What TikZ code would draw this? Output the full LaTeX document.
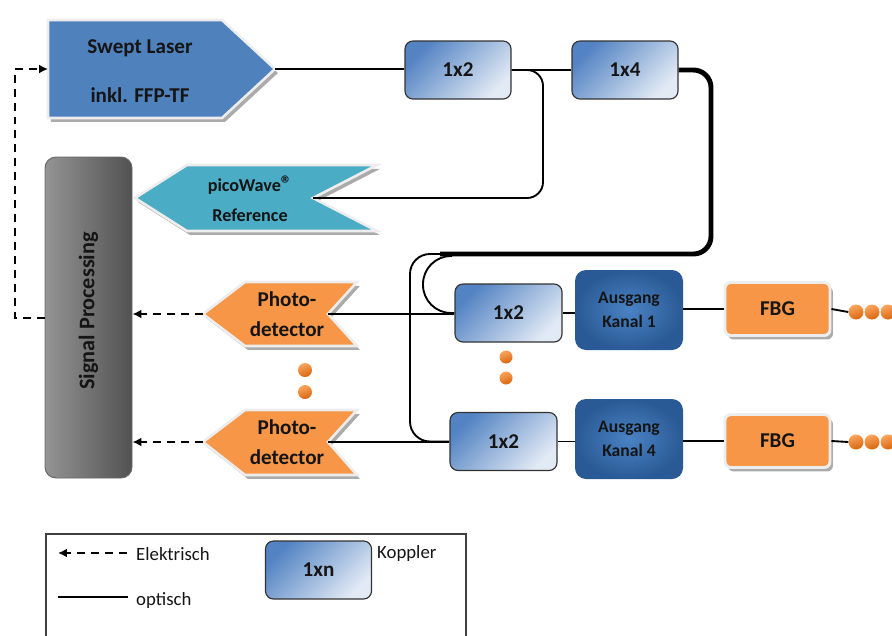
\documentclass[tikz,border=0pt]{standalone}
\usepackage{fontspec}
\setmainfont{Carlito}
\usetikzlibrary{shadows,arrows.meta,calc}
\definecolor{laserblue}{HTML}{4F81BD}
\definecolor{picoteal}{HTML}{4BACC6}
\definecolor{pdorange}{HTML}{F79646}
\definecolor{ausdark}{HTML}{2A5A95}
\definecolor{auslight}{HTML}{4A82C4}
\definecolor{cpldark}{HTML}{5383C3}
\definecolor{cpllight}{HTML}{E2EAF5}
\definecolor{txt}{HTML}{151515}
\definecolor{shadowgray}{HTML}{ABABAB}
\definecolor{rimc}{HTML}{EDEDED}
\definecolor{dottop}{HTML}{FAA65E}
\definecolor{dotbot}{HTML}{D9650F}
\newdimen\pxu \pxu=0.03cm
\begin{document}
\begin{tikzpicture}[x=0.03cm,y=-0.03cm,
  lbl/.style={font=\fontsize{18}{21.6}\selectfont\bfseries, text=txt, align=center},
  fancy/.style={fill=#1, draw=rimc, line width=2.2pt, line join=miter,
    drop shadow={shadow xshift=2.5pt, shadow yshift=-3.4pt, fill=shadowgray, opacity=1}},
  cpl/.style={draw=black!80, line width=1pt, rounded corners=6.8pt,
    top color=cpldark, bottom color=cpllight, shading angle=45,
    minimum width=106\pxu, minimum height=58\pxu, inner sep=0pt, lbl},
  aus/.style={inner color=auslight, outer color=ausdark, rounded corners=9.4pt,
    minimum width=108\pxu, minimum height=80\pxu, inner sep=0pt, align=center,
    text=txt, font=\fontsize{15}{21}\selectfont\bfseries},
  fbgbox/.style={fill=pdorange, draw=rimc, line width=2.5pt, rounded corners=5pt,
    drop shadow={shadow xshift=2.5pt, shadow yshift=-3.4pt, fill=shadowgray, opacity=1},
    minimum width=105\pxu, minimum height=53\pxu, inner sep=0pt, lbl},
  spbox/.style={rounded corners=9.4pt, draw=black!60, line width=0.8pt,
    left color=black!42, middle color=black!14, right color=black!68,
    minimum width=87\pxu, minimum height=321\pxu, inner sep=0pt},
  dotball/.style={circle, top color=dottop, bottom color=dotbot, shading angle=20,
    minimum size=14\pxu, inner sep=0pt},
  fiber/.style={draw=black, line width=1.6pt},
  thickfiber/.style={draw=black, line width=4.2pt},
  elec/.style={draw=black, line width=1.6pt, dash pattern=on 6.8pt off 5.1pt,
    -{Latex[length=7.6pt,width=7.6pt]}},
  legtext/.style={font=\fontsize{16}{19}\selectfont, text=txt, anchor=west, inner sep=0pt}
]
\useasboundingbox (0,0) rectangle (892,635);
\clip (0,0) rectangle (892,635);

% ---------- Swept laser ----------
\path[fancy=laserblue] (48,20) -- (222,20) -- (275,69) -- (222,118) -- (48,118) -- cycle;
\coordinate (laserTip) at (275,69);
\coordinate (laserIn) at (48,69);
\node[lbl] (laser) at (140,71) {Swept Laser\\[20pt]inkl. FFP-TF};

% ---------- picoWave reference ----------
\path[fancy=picoteal] (135,198) -- (187,165) -- (377,165) -- (313,198) -- (377,231) -- (187,231) -- cycle;
\coordinate (picoNotch) at (313,198);
\node[lbl, font=\fontsize{15.5}{25.5}\selectfont\bfseries] (pico) at (250,199) {picoWave{\fontsize{19}{19}\selectfont ®}\\Reference};

% ---------- Signal processing ----------
\node[spbox] (sp) at (88.5,317.5) {};
\node[lbl, rotate=90, font=\fontsize{19}{22}\selectfont\bfseries] (splabel) at (88.5,311) {Signal Processing};

% ---------- Photodetectors ----------
\path[fancy=pdorange] (203,314) -- (245,282) -- (357,282) -- (328,314) -- (357,346) -- (245,346) -- cycle;
\coordinate (pd1Tip) at (203,314);
\coordinate (pd1Notch) at (328,314);
\node[lbl, font=\fontsize{18}{25.5}\selectfont\bfseries] (pd1) at (287,314) {Photo-\\detector};

\path[fancy=pdorange] (203,442) -- (245,410) -- (357,410) -- (328,442) -- (357,475) -- (245,475) -- cycle;
\coordinate (pd2Tip) at (203,442);
\coordinate (pd2Notch) at (328,442);
\node[lbl, font=\fontsize{18}{25.5}\selectfont\bfseries] (pd2) at (287,442) {Photo-\\detector};

\node[dotball] (dpa) at (305,370) {};
\node[dotball] (dpb) at (305,392) {};

% ---------- Couplers ----------
\node[cpl] (c12a) at (458,70) {1x2};
\node[cpl] (c14) at (625,70) {1x4};
\node[cpl, minimum width=107\pxu] (c12b) at (508.5,313) {1x2};
\node[cpl, minimum width=107\pxu] (c12c) at (503.5,441.5) {1x2};
\node[dotball, minimum size=13\pxu] (dca) at (506,357) {};
\node[dotball, minimum size=13\pxu] (dcb) at (506,378) {};

% ---------- Outputs ----------
\node[aus] (aus1) at (629,310) {Ausgang\\Kanal 1};
\node[aus] (aus4) at (629,439) {Ausgang\\Kanal 4};
\node[fbgbox] (fbg1) at (777.5,309) {FBG};
\node[fbgbox] (fbg2) at (777.5,441) {FBG};
\node[dotball, minimum size=15\pxu] (r1a) at (856,312) {};
\node[dotball, minimum size=15\pxu] (r1b) at (872,312) {};
\node[dotball, minimum size=15\pxu] (r1c) at (888,312) {};
\node[dotball, minimum size=15\pxu] (r4a) at (856,442) {};
\node[dotball, minimum size=15\pxu] (r4b) at (872,442) {};
\node[dotball, minimum size=15\pxu] (r4c) at (888,442) {};

% ---------- Optical connections ----------
\draw[fiber] (laserTip) -- (laserTip -| c12a.west);
\draw[fiber] (c12a.east) -- (c14.west);
\coordinate (loopA) at (543,70);
\coordinate (loopB) at (543,198);
\draw[fiber, rounded corners=13.6pt] (c12a.east) -- (loopA) -- (loopB) -- (picoNotch);
\coordinate (bunA) at (711,70);
\coordinate (bunB) at (711,254);
\coordinate (bunC) at (440,254);
\draw[thickfiber, rounded corners=15pt] (c14.east) -- (bunA) -- (bunB) -- (bunC);
\coordinate (outA) at (446,254);
\coordinate (outB) at (410,254);
\coordinate (outC) at (410,441.5);
\draw[fiber, rounded corners=17pt] (outA) -- (outB) -- (outC) -- (c12c.west);
\coordinate (inA) at (452,256);
\coordinate (inB) at (423,256);
\coordinate (inC) at (423,313);
\draw[fiber, rounded corners=24pt] (inA) -- (inB) -- (inC) -- (c12b.west);
\draw[fiber] (pd1Notch) -- (pd1Notch -| c12b.west);
\draw[fiber] (pd2Notch) -- (pd2Notch -| c12c.west);
\draw[fiber] (c12b.east) -- (c12b.east -| aus1.west);
\draw[fiber] (c12c.east) -- (c12c.east -| aus4.west);
\draw[fiber] (aus1.east |- fbg1.west) -- (fbg1.west);
\draw[fiber] (aus4.east |- fbg2.west) -- (fbg2.west);
\draw[fiber] (fbg1.east) -- (r1a.west);
\draw[fiber] (fbg2.east) -- (r4a.west);

% ---------- Electrical connections ----------
\coordinate (fbA) at (15,318);
\coordinate (fbB) at (15,69);
\draw[elec] (sp.west |- fbA) -- (fbA) -- (fbB) -- (laserIn);
\draw[elec] (pd1Tip) -- (pd1Tip -| sp.east);
\draw[elec] (pd2Tip) -- (pd2Tip -| sp.east);

% ---------- Legend ----------
\coordinate (lgA) at (46,640);
\coordinate (lgB) at (46,534);
\coordinate (lgC) at (466,534);
\coordinate (lgD) at (466,640);
\draw[black!75, line width=1pt] (lgA) -- (lgB) -- (lgC) -- (lgD);
\coordinate (leA) at (127,553);
\coordinate (leB) at (58,553);
\draw[elec] (leA) -- (leB);
\node[legtext] (legElek) at (136,554) {Elektrisch};
\coordinate (loA) at (58,597);
\coordinate (loB) at (128,597);
\draw[fiber] (loA) -- (loB);
\node[legtext] (legOpt) at (136,600) {optisch};
\node[cpl] (leg1xn) at (318.5,570) {1xn};
\node[legtext] (legKop) at (377,553) {Koppler};
\end{tikzpicture}
\end{document}
